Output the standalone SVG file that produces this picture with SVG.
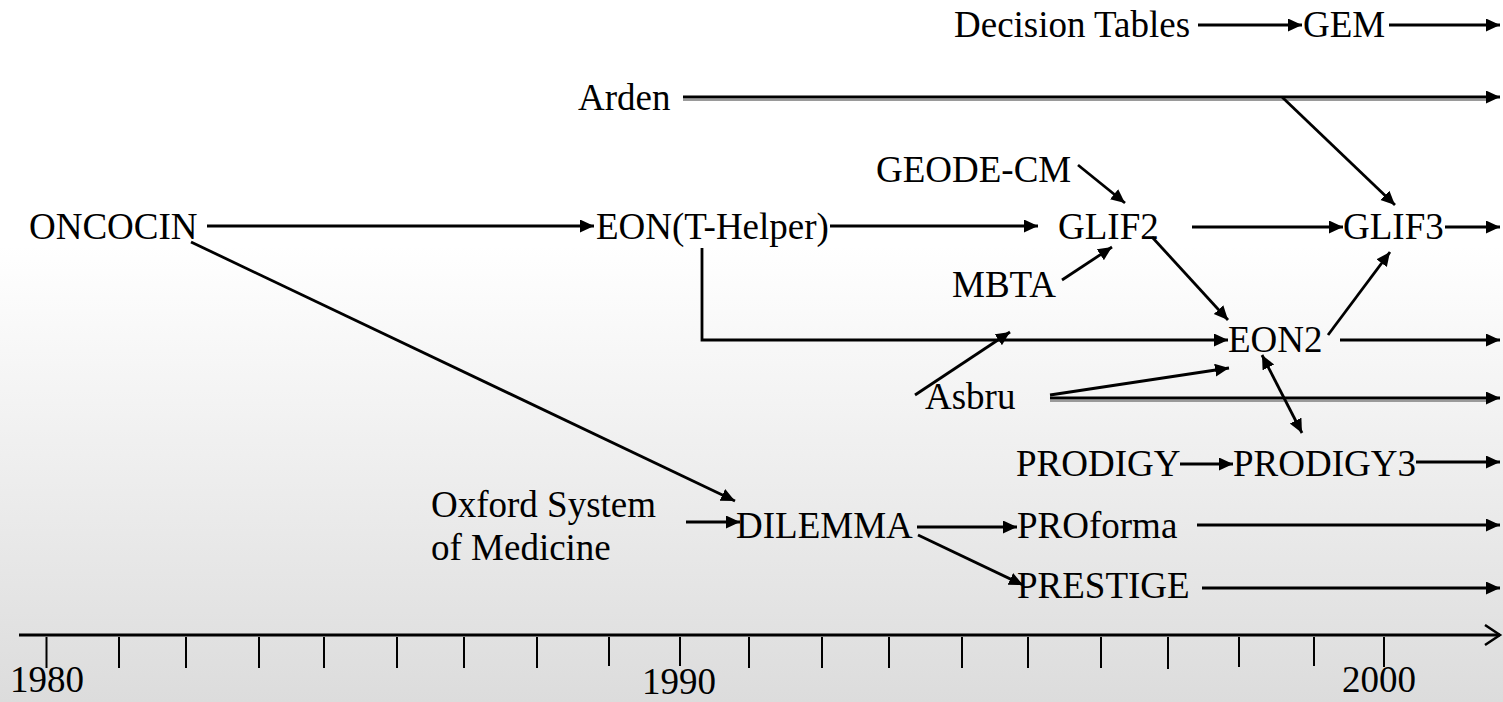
<svg xmlns="http://www.w3.org/2000/svg" width="1503" height="702" viewBox="0 0 1503 702">
  <defs>
    <linearGradient id="bg" x1="0" y1="0" x2="0" y2="1">
      <stop offset="0" stop-color="#ffffff"/>
      <stop offset="0.35" stop-color="#ffffff"/>
      <stop offset="1" stop-color="#dcdcdc"/>
    </linearGradient>
    <marker id="ah" markerUnits="userSpaceOnUse" markerWidth="16" markerHeight="14" refX="14" refY="6.5" orient="auto-start-reverse">
      <path d="M0,0 L14,6.5 L0,13 z" fill="#000"/>
    </marker>
    <marker id="open" markerUnits="userSpaceOnUse" markerWidth="20" markerHeight="24" refX="16" refY="11" orient="auto">
      <path d="M1,1 L16,11 L1,21" fill="none" stroke="#000" stroke-width="2.5"/>
    </marker>
  </defs>
  <style>
    text { font-family: "Liberation Serif", "Times New Roman", serif; font-size: 37px; fill: #000; }
    .c { stroke: #000; stroke-width: 2.8; fill: none; }
    .a { marker-end: url(#ah); }
    .sh { stroke: #9a9a9a; stroke-width: 2; fill: none; }
    .t { stroke: #000; stroke-width: 2; }
  </style>
  <rect x="0" y="0" width="1503" height="702" fill="url(#bg)"/>

  <g id="nodes">
    <g id="n-decision"><text x="954" y="37">Decision Tables</text></g>
    <g id="n-gem"><text x="1303" y="37">GEM</text></g>
    <g id="n-arden"><text x="578" y="110">Arden</text></g>
    <g id="n-geode"><text x="876" y="182">GEODE-CM</text></g>
    <g id="n-oncocin"><text x="29" y="239">ONCOCIN</text></g>
    <g id="n-eont"><text x="596" y="239">EON(T-Helper)</text></g>
    <g id="n-glif2"><text x="1058" y="239">GLIF2</text></g>
    <g id="n-glif3"><text x="1343" y="239">GLIF3</text></g>
    <g id="n-mbta"><text x="952" y="297">MBTA</text></g>
    <g id="n-eon2"><text x="1228" y="352">EON2</text></g>
    <g id="n-asbru"><text x="925" y="409">Asbru</text></g>
    <g id="n-prodigy"><text x="1016" y="476">PRODIGY</text></g>
    <g id="n-prodigy3"><text x="1233" y="476">PRODIGY3</text></g>
    <g id="n-oxford"><text x="431" y="517">Oxford System</text><text x="431" y="560">of Medicine</text></g>
    <g id="n-dilemma"><text x="736" y="538">DILEMMA</text></g>
    <g id="n-proforma"><text x="1017" y="538">PROforma</text></g>
    <g id="n-prestige"><text x="1017" y="598">PRESTIGE</text></g>
  </g>

  <g id="connectors">
    <line class="c a" x1="1198" y1="25" x2="1302" y2="25"/>
    <line class="c a" x1="1389" y1="25" x2="1500" y2="25"/>
    <line class="sh" x1="683" y1="100" x2="1490" y2="100"/>
    <line class="c a" x1="683" y1="97" x2="1500" y2="97"/>
    <line class="c a" x1="1282" y1="97" x2="1395" y2="205"/>
    <line class="c a" x1="207" y1="226" x2="594" y2="226"/>
    <line class="c a" x1="830" y1="226" x2="1038" y2="226"/>
    <line class="c a" x1="1078" y1="165" x2="1125" y2="203"/>
    <line class="c a" x1="1062" y1="280" x2="1112" y2="247"/>
    <line class="c a" x1="1192" y1="227" x2="1343" y2="227"/>
    <line class="c a" x1="1445" y1="227" x2="1500" y2="227"/>
    <polyline class="c a" points="702,248 702,340 1228,340"/>
    <line class="c a" x1="1152" y1="237" x2="1228" y2="320"/>
    <line class="c a" x1="1328" y1="335" x2="1390" y2="252"/>
    <line class="c a" x1="1340" y1="340" x2="1500" y2="340"/>
    <line class="c a" x1="915" y1="395" x2="1010" y2="332"/>
    <line class="c a" x1="1050" y1="395" x2="1229" y2="368"/>
    <line class="sh" x1="1050" y1="401" x2="1490" y2="401"/>
    <line class="c a" x1="1050" y1="398" x2="1500" y2="398"/>
    <line class="c a" x1="1262" y1="355" x2="1302" y2="433" marker-start="url(#ah)"/>
    <line class="c a" x1="1180" y1="464" x2="1233" y2="464"/>
    <line class="c a" x1="1416" y1="462" x2="1500" y2="462"/>
    <line class="c a" x1="191" y1="242" x2="735" y2="501"/>
    <line class="c a" x1="686" y1="522" x2="740" y2="522"/>
    <line class="c a" x1="917" y1="527" x2="1017" y2="527"/>
    <line class="c a" x1="1197" y1="525" x2="1500" y2="525"/>
    <line class="c a" x1="918" y1="535" x2="1023" y2="585"/>
    <line class="c a" x1="1202" y1="588" x2="1500" y2="588"/>
  </g>

  <g id="axis">
    <line x1="19" y1="635" x2="1500" y2="635" stroke="#000" stroke-width="2.8" marker-end="url(#open)"/>
    <g class="t">
      <line x1="46.5" y1="637" x2="46.5" y2="668"/>
      <line x1="119" y1="637" x2="119" y2="668"/>
      <line x1="186" y1="637" x2="186" y2="668"/>
      <line x1="259" y1="637" x2="259" y2="668"/>
      <line x1="324" y1="637" x2="324" y2="668"/>
      <line x1="397" y1="637" x2="397" y2="668"/>
      <line x1="464" y1="637" x2="464" y2="668"/>
      <line x1="537" y1="637" x2="537" y2="668"/>
      <line x1="609" y1="637" x2="609" y2="666"/>
      <line x1="680" y1="637" x2="680" y2="666"/>
      <line x1="749" y1="637" x2="749" y2="668"/>
      <line x1="822" y1="637" x2="822" y2="668"/>
      <line x1="889" y1="637" x2="889" y2="668"/>
      <line x1="962" y1="637" x2="962" y2="668"/>
      <line x1="1028" y1="637" x2="1028" y2="668"/>
      <line x1="1101" y1="637" x2="1101" y2="668"/>
      <line x1="1168" y1="637" x2="1168" y2="669"/>
      <line x1="1239" y1="637" x2="1239" y2="667"/>
      <line x1="1314" y1="637" x2="1314" y2="666"/>
      <line x1="1384" y1="637" x2="1384" y2="667"/>
    </g>
    <text x="10" y="692">1980</text>
    <text x="642" y="694">1990</text>
    <text x="1342" y="692">2000</text>
  </g>
</svg>
